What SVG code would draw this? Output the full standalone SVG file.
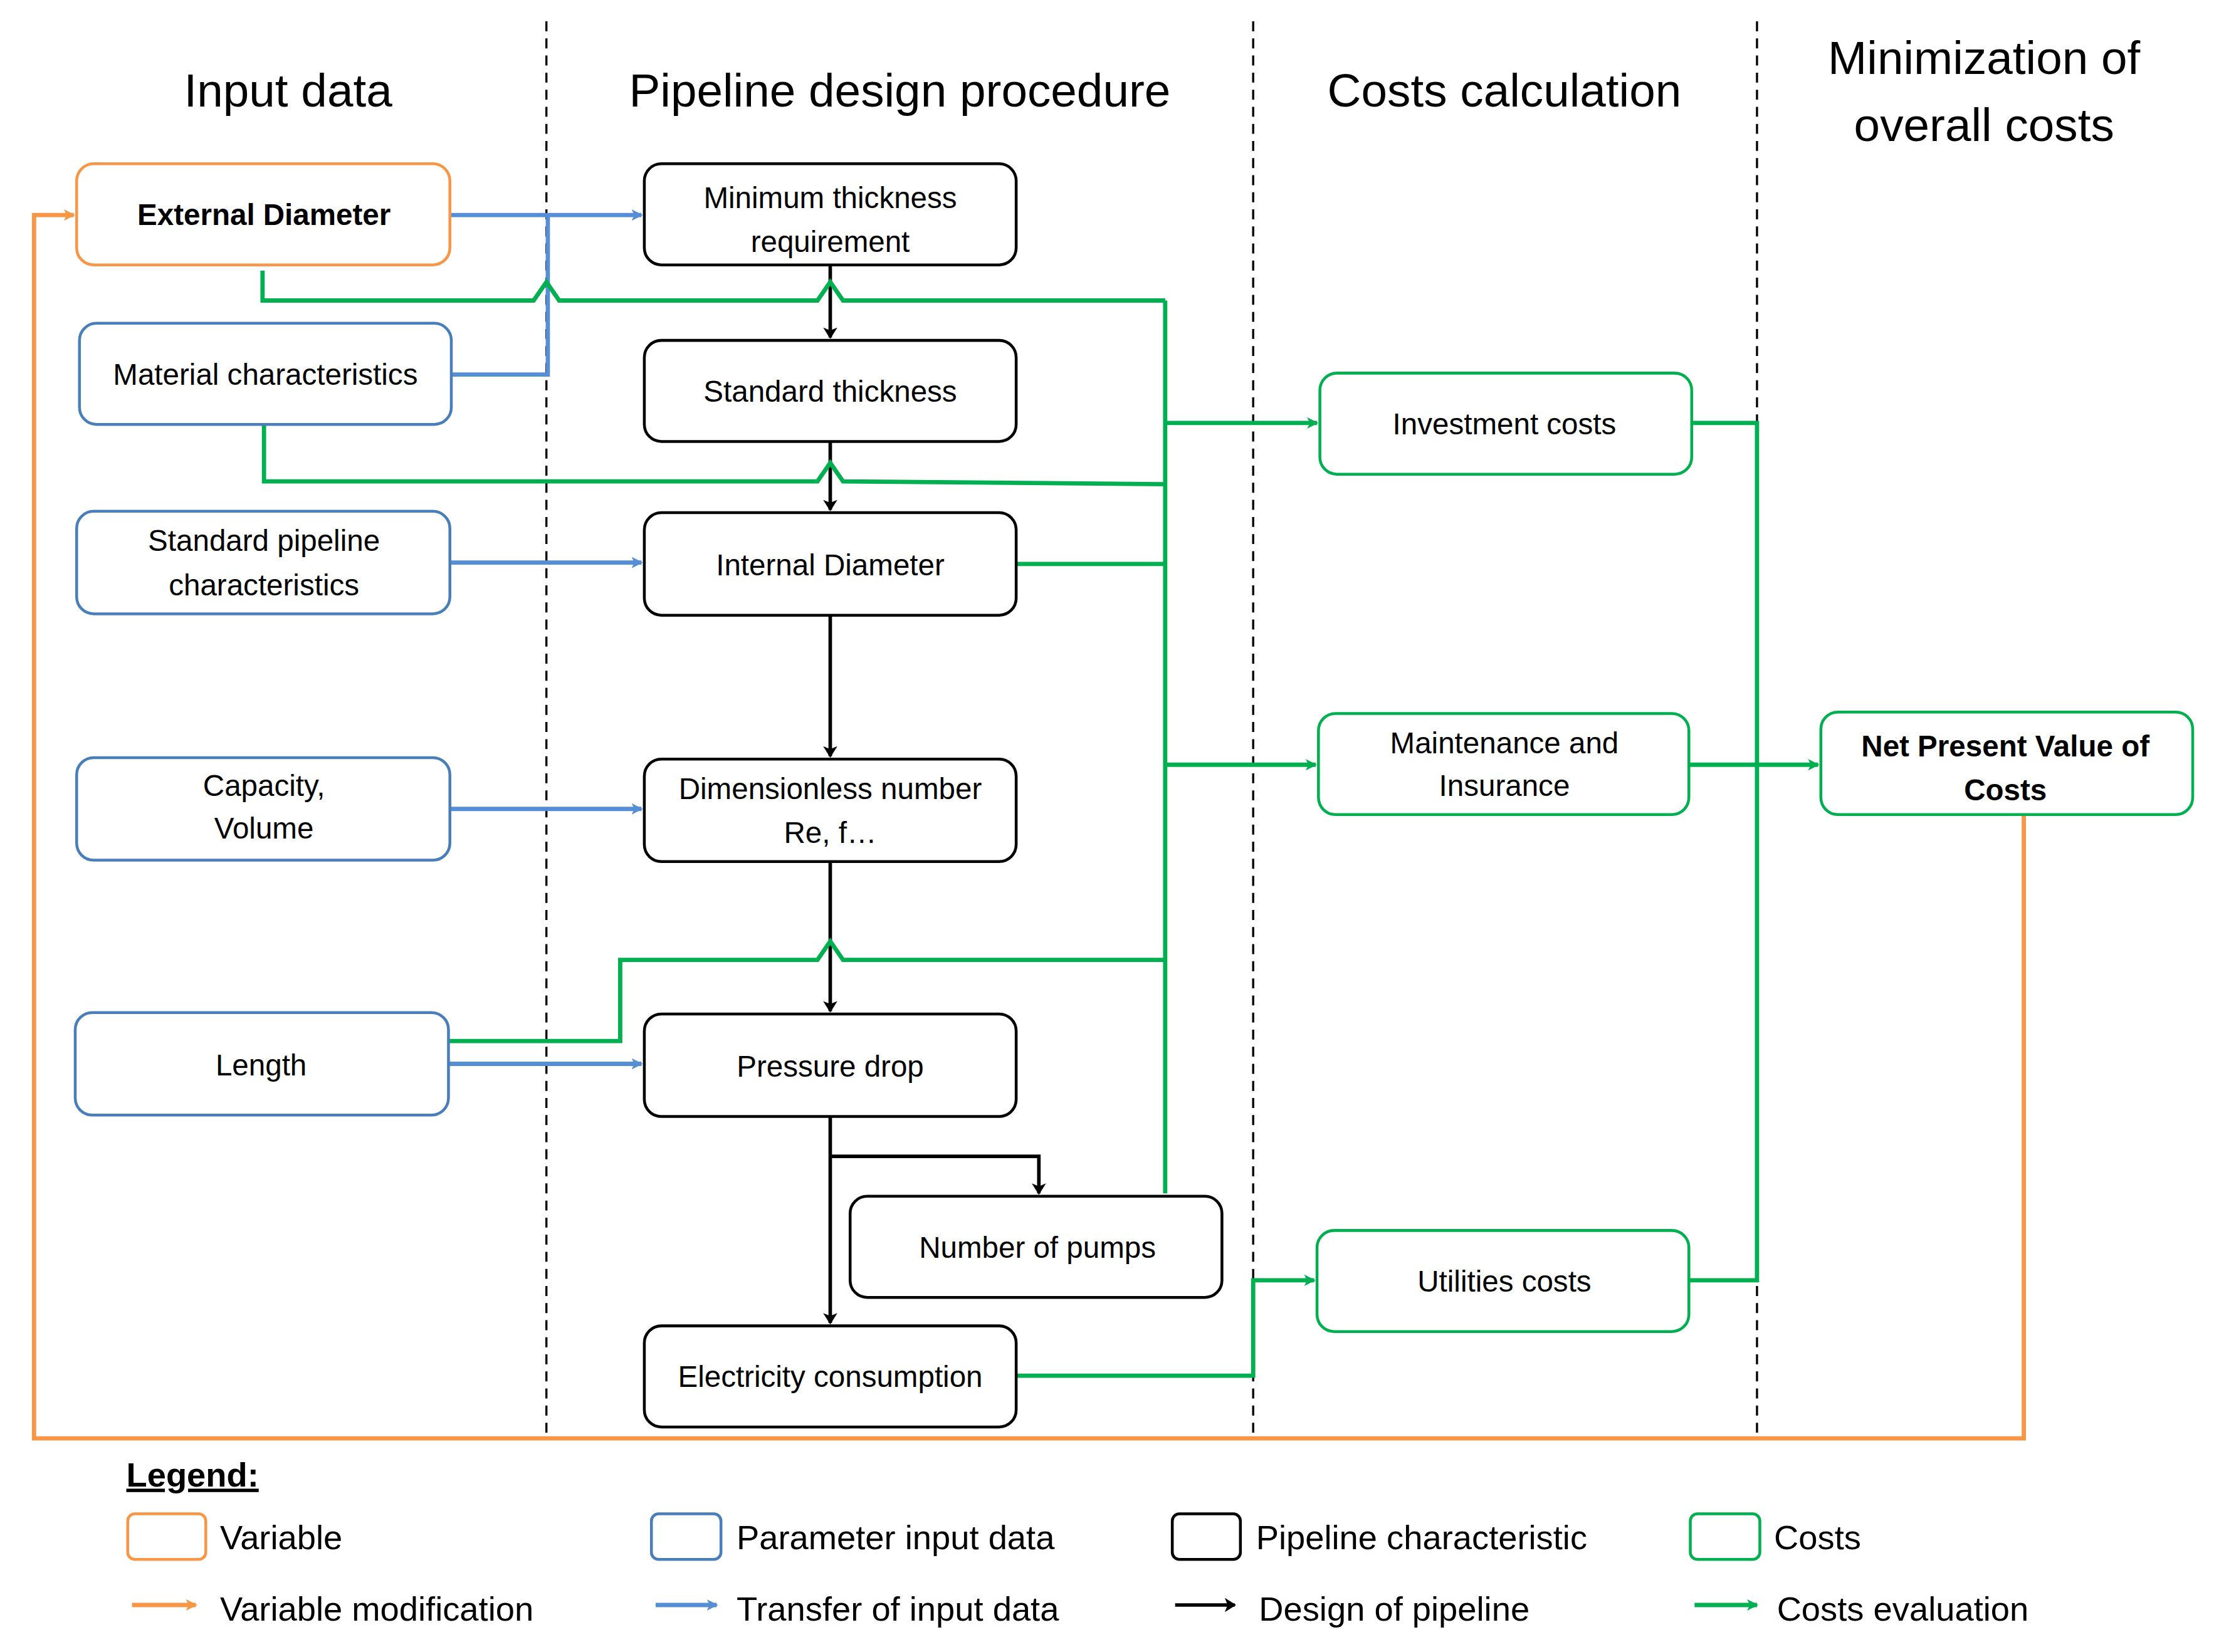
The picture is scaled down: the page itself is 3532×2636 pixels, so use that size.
<svg xmlns="http://www.w3.org/2000/svg" width="3532" height="2636" viewBox="0 0 3532 2636">
<defs>
<style>
text{font-family:"Liberation Sans",Arial,sans-serif;fill:#000}
.h{font-size:33px;text-anchor:middle}
.t{font-size:21px;text-anchor:middle}
.b{font-weight:bold}
.lg{font-size:24px}
.box{fill:#fff;stroke-width:2}
.o{stroke:#f79646}.bl{stroke:#4a7ebb}.k{stroke:#000}.g{stroke:#00b050}
.dash{stroke:#000;stroke-width:1.5;stroke-dasharray:7,5;fill:none}
.cg{stroke:#00b050;stroke-width:3;fill:none}
.cb{stroke:#558ed5;stroke-width:3;fill:none}
.ck{stroke:#000;stroke-width:2.5;fill:none}
.co{stroke:#f79646;stroke-width:3;fill:none}
</style>
<marker id="ag" markerWidth="8" markerHeight="8" refX="7" refY="4" orient="auto" markerUnits="userSpaceOnUse"><path d="M0,0 L8,4 L0,8 L2,4Z" fill="#00b050"/></marker>
<marker id="ab" markerWidth="8" markerHeight="8" refX="7" refY="4" orient="auto" markerUnits="userSpaceOnUse"><path d="M0,0 L8,4 L0,8 L2,4Z" fill="#558ed5"/></marker>
<marker id="ak" markerWidth="8" markerHeight="10" refX="7" refY="5" orient="auto" markerUnits="userSpaceOnUse"><path d="M0,0 L8,5 L0,10 L2,5Z" fill="#000"/></marker>
<marker id="ao" markerWidth="8" markerHeight="8" refX="7" refY="4" orient="auto" markerUnits="userSpaceOnUse"><path d="M0,0 L8,4 L0,8 L2,4Z" fill="#f79646"/></marker>
</defs>
<rect width="3532" height="2636" fill="#fff"/>
<g transform="scale(2.2641,2.2724)">
<g id="dividers">
<line class="dash" x1="385" y1="15" x2="385" y2="1008"/>
<line class="dash" x1="883" y1="15" x2="883" y2="1008"/>
<line class="dash" x1="1238" y1="15" x2="1238" y2="1008"/>
</g>
<g id="headers">
<text class="h" x="203" y="75">Input data</text>
<text class="h" x="634" y="75">Pipeline design procedure</text>
<text class="h" x="1060" y="75">Costs calculation</text>
<text class="h" x="1398" y="52">Minimization of</text>
<text class="h" x="1398" y="99">overall costs</text>
</g>
<g id="connectors">
<path class="cb" d="M317,151 H452" marker-end="url(#ab)"/>
<path class="cb" d="M318,263 H386 V151"/>
<path class="cb" d="M317,395 H452" marker-end="url(#ab)"/>
<path class="cb" d="M317,568 H452" marker-end="url(#ab)"/>
<path class="cb" d="M316,747 H452" marker-end="url(#ab)"/>
<path class="ck" d="M585,186 V237" marker-end="url(#ak)"/>
<path class="ck" d="M585,310 V358" marker-end="url(#ak)"/>
<path class="ck" d="M585,432 V531" marker-end="url(#ak)"/>
<path class="ck" d="M585,605 V710" marker-end="url(#ak)"/>
<path class="ck" d="M585,784 V929" marker-end="url(#ak)"/>
<path class="ck" d="M585,812 H732 V838" stroke-width="3.5" marker-end="url(#ak)"/>
<path class="cg" d="M185,190 V211 H376 L385,198 L394,211 H576 L585,198 L594,211 H821"/>
<path class="cg" d="M186,298 V338 H576 L585,325 L594,338 L821,340"/>
<path class="cg" d="M716,396 H821"/>
<path class="cg" d="M316,731 H437 V674 H576 L585,661 L594,674 H821"/>
<path class="cg" d="M821,211 V838"/>
<path class="cg" d="M821,297 H928" marker-end="url(#ag)"/>
<path class="cg" d="M821,537 H927" marker-end="url(#ag)"/>
<path class="cg" d="M716,966 H883 V899 H926" marker-end="url(#ag)"/>
<path class="cg" d="M1192,297 H1238 V899 H1190"/>
<path class="cg" d="M1190,537 H1281" marker-end="url(#ag)"/>
<path class="co" d="M1426,572 V1010 H24 V151 H52" marker-end="url(#ao)"/>
</g>
<g id="n-ext"><rect class="box o" x="54" y="115" width="263" height="71" rx="12"/><text class="t b" x="186" y="158">External Diameter</text></g>
<g id="n-mat"><rect class="box bl" x="56" y="227" width="262" height="71" rx="12"/><text class="t" x="187" y="270">Material characteristics</text></g>
<g id="n-std"><rect class="box bl" x="54" y="359" width="263" height="72" rx="12"/><text class="t" x="186" y="387">Standard pipeline</text><text class="t" x="186" y="418">characteristics</text></g>
<g id="n-cap"><rect class="box bl" x="54" y="532" width="263" height="72" rx="12"/><text class="t" x="186" y="559">Capacity,</text><text class="t" x="186" y="589">Volume</text></g>
<g id="n-len"><rect class="box bl" x="53" y="711" width="263" height="72" rx="12"/><text class="t" x="184" y="755">Length</text></g>
<g id="n-min"><rect class="box k" x="454" y="115" width="262" height="71" rx="12"/><text class="t" x="585" y="146">Minimum thickness</text><text class="t" x="585" y="177">requirement</text></g>
<g id="n-sth"><rect class="box k" x="454" y="239" width="262" height="71" rx="12"/><text class="t" x="585" y="282">Standard thickness</text></g>
<g id="n-int"><rect class="box k" x="454" y="360" width="262" height="72" rx="12"/><text class="t" x="585" y="404">Internal Diameter</text></g>
<g id="n-dim"><rect class="box k" x="454" y="533" width="262" height="72" rx="12"/><text class="t" x="585" y="561">Dimensionless number</text><text class="t" x="585" y="592">Re, f…</text></g>
<g id="n-pd"><rect class="box k" x="454" y="712" width="262" height="72" rx="12"/><text class="t" x="585" y="756">Pressure drop</text></g>
<g id="n-pumps"><rect class="box k" x="599" y="840" width="262" height="71" rx="12"/><text class="t" x="731" y="883">Number of pumps</text></g>
<g id="n-elec"><rect class="box k" x="454" y="931" width="262" height="71" rx="12"/><text class="t" x="585" y="974">Electricity consumption</text></g>
<g id="n-inv"><rect class="box g" x="930" y="262" width="262" height="71" rx="12"/><text class="t" x="1060" y="305">Investment costs</text></g>
<g id="n-mai"><rect class="box g" x="929" y="501" width="261" height="71" rx="12"/><text class="t" x="1060" y="529">Maintenance and</text><text class="t" x="1060" y="559">Insurance</text></g>
<g id="n-uti"><rect class="box g" x="928" y="864" width="262" height="71" rx="12"/><text class="t" x="1060" y="907">Utilities costs</text></g>
<g id="n-npv"><rect class="box g" x="1283" y="500" width="262" height="72" rx="12"/><text class="t b" x="1413" y="531">Net Present Value of</text><text class="t b" x="1413" y="562">Costs</text></g>
<g id="legend">
<text class="lg b" x="89" y="1044" text-decoration="underline">Legend:</text>
<rect class="box o" x="90" y="1063" width="55" height="32" rx="5"/>
<rect class="box bl" x="459" y="1063" width="49" height="32" rx="5"/>
<rect class="box k" x="826" y="1063" width="48" height="32" rx="5"/>
<rect class="box g" x="1191" y="1063" width="49" height="32" rx="5"/>
<text class="lg" x="155" y="1088">Variable</text>
<text class="lg" x="519" y="1088">Parameter input data</text>
<text class="lg" x="885" y="1088">Pipeline characteristic</text>
<text class="lg" x="1250" y="1088">Costs</text>
<path class="co" d="M93,1127 H138" marker-end="url(#ao)"/>
<path class="cb" d="M462,1127 H505" marker-end="url(#ab)"/>
<path class="ck" d="M828,1127 H870" stroke-width="3.5" marker-end="url(#ak)"/>
<path class="cg" d="M1194,1127 H1238" marker-end="url(#ag)"/>
<text class="lg" x="155" y="1138">Variable modification</text>
<text class="lg" x="519" y="1138">Transfer of input data</text>
<text class="lg" x="887" y="1138">Design of pipeline</text>
<text class="lg" x="1252" y="1138">Costs evaluation</text>
</g>
</g>
</svg>
